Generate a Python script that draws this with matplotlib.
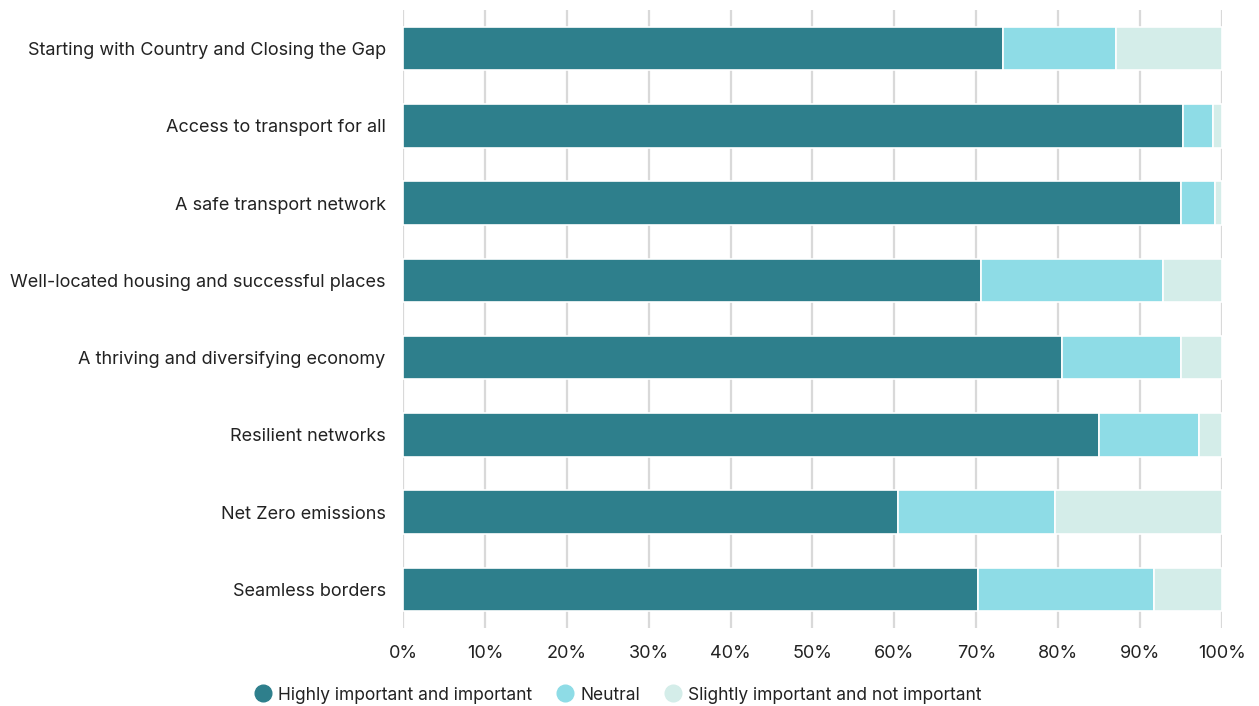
import matplotlib
matplotlib.use("Agg")
import matplotlib.pyplot as plt
from matplotlib.lines import Line2D
import numpy as np

categories = [
    "Starting with Country and Closing the Gap",
    "Access to transport for all",
    "A safe transport network",
    "Well-located housing and successful places",
    "A thriving and diversifying economy",
    "Resilient networks",
    "Net Zero emissions",
    "Seamless borders",
]
high = [73.3, 95.2, 95.0, 70.6, 80.5, 85.0, 60.4, 70.2]
neutral = [13.8, 3.7, 4.1, 22.2, 14.5, 12.2, 19.2, 21.5]
low = [12.9, 1.1, 0.9, 7.2, 5.0, 2.8, 20.4, 8.3]
series_names = ["Highly important and important", "Neutral",
                "Slightly important and not important"]
colors = ["#2E7F8C", "#8EDCE6", "#D4EDE9"]
xticks = list(range(0, 101, 10))

plt.rcParams['font.family'] = ['Inter', 'DejaVu Sans']

fig = plt.figure(figsize=(12.59, 7.06), dpi=100)
ax = fig.add_axes([403/1259, 1-628/706, (1222-403)/1259, (628-10)/706])

y = np.arange(len(categories))
left = np.zeros(len(categories))
for vals, col, name in zip([high, neutral, low], colors, series_names):
    ax.barh(y, vals, left=left, height=0.56, color=col, edgecolor="white",
            linewidth=1.2, label=name, zorder=3)
    left += np.array(vals)

ax.set_ylim(len(categories) - 0.5, -0.5)
ax.set_xlim(0, 100)
ax.set_yticks(y)
ax.set_yticklabels(categories, fontsize=13, color="#222222")
ax.set_xticks(xticks)
ax.set_xticklabels([f"{t}%" for t in xticks], fontsize=13, color="#222222")
ax.tick_params(axis="y", length=0, pad=12.5)
ax.tick_params(axis="x", length=0, pad=12)
ax.grid(axis="x", color="#d9d9d9", linewidth=1.6, zorder=0)
ax.set_axisbelow(True)
for s in ax.spines.values():
    s.set_visible(False)

handles = [Line2D([0], [0], marker="o", linestyle="", markersize=12,
                  markerfacecolor=c, markeredgecolor=c) for c in colors]
fig.legend(handles, series_names, loc="center", bbox_to_anchor=(617/1259, 1-695/706),
           ncol=3, frameon=False, fontsize=12.5, handletextpad=0.25,
           handlelength=1.2, columnspacing=1.3, labelcolor="#222222")

fig.savefig("out.png", dpi=100)
